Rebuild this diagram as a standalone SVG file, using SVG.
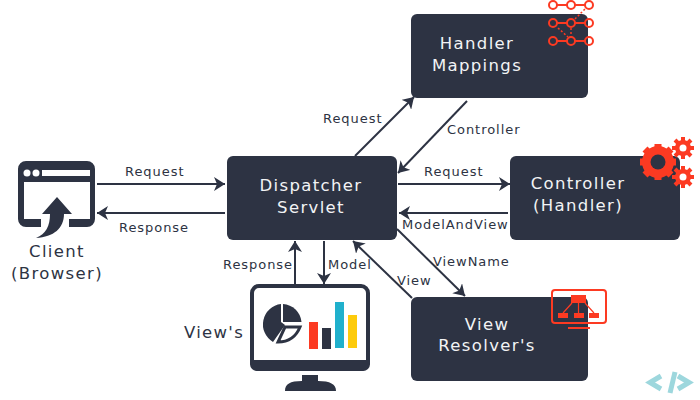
<svg xmlns="http://www.w3.org/2000/svg" width="700" height="400" viewBox="0 0 700 400">
<style>
.box{fill:#2d3343}
.t{font-family:"DejaVu Sans",sans-serif;fill:#2d3343}
.lb{font-size:13px;letter-spacing:.95px}
.big{font-family:"DejaVu Sans",sans-serif;font-size:16.500px;letter-spacing:1.350px;text-anchor:middle}
.w{fill:#f2f3f5}
.c{stroke:#2d3343;stroke-width:2;fill:none;marker-end:url(#a)}
.red{fill:#fc3a22}
.rs{stroke:#fc3a22;fill:none}
.o{fill:none;stroke:#fc3a22;stroke-width:2}
</style>
<defs>
<marker id="a" markerUnits="userSpaceOnUse" markerWidth="12" markerHeight="14" refX="11" refY="7" orient="auto"><path d="M0 0L11 7L0 14L3 7Z" fill="#2d3343"/></marker>
</defs>
<g id="connectors">
<path class="c" d="M97 184H225"/>
<path class="c" d="M225 213H97"/>
<path class="c" d="M355 156L414 97"/>
<path class="c" d="M467 101L398 173"/>
<path class="c" d="M398 184H510"/>
<path class="c" d="M508 213H399"/>
<path class="c" d="M397 229L465 296"/>
<path class="c" d="M412 298L353 241"/>
<path class="c" d="M295 284V241"/>
<path class="c" d="M324 241V284"/>
</g>
<g id="labels" class="t lb">
<text x="125" y="176">Request</text>
<text x="119" y="232">Response</text>
<text x="323" y="123">Request</text>
<text x="447" y="134">Controller</text>
<text x="424" y="176">Request</text>
<text x="402" y="229">ModelAndView</text>
<text x="433" y="266">ViewName</text>
<text x="397" y="285">View</text>
<text x="223" y="269">Response</text>
<text x="328" y="269">Model</text>
</g>
<g id="client">
<path class="box" d="M26 161H87a8 8 0 0 1 8 8V219a8 8 0 0 1-8 8H69V219H90V182H24V219H41V227H26a8 8 0 0 1-8-8V169a8 8 0 0 1 8-8Z"/>
<circle cx="27" cy="173" r="3.500" fill="#fff"/><circle cx="36" cy="173" r="3.500" fill="#fff"/><rect x="42" y="170" width="48" height="6" fill="#fff"/>
<path class="box" d="M57 197L72 214H64C64 228 54 237 36 238C46 234 50 226 50 214H42Z"/>
<text class="t big" x="57" y="257">Client</text>
<text class="t big" x="57" y="279">(Browser)</text>
</g>
<g id="dispatcher">
<rect class="box" x="227" y="156" width="170" height="84" rx="6"/>
<text class="big w" x="311" y="191">Dispatcher</text>
<text class="big w" x="311" y="213">Servlet</text>
</g>
<g id="handler">
<rect class="box" x="411" y="14" width="177" height="84" rx="6"/>
<text class="big w" x="477" y="49">Handler</text>
<text class="big w" x="477" y="71">Mappings</text>
<path class="rs" stroke-width="2" d="M557 5H567M575 5H585M557 23H567M575 23H585M557 41H567M575 41H585"/>
<path class="rs" stroke-width="1.500" stroke-dasharray="2 2" d="M575 19L585 9M558 28L568 37M571 28V37"/>
<g class="o"><circle cx="553" cy="5" r="4"/><circle cx="571" cy="5" r="4"/><circle cx="589" cy="5" r="4"/><circle cx="553" cy="23" r="4"/><circle cx="571" cy="23" r="4"/><circle cx="589" cy="23" r="4"/><circle cx="553" cy="41" r="4"/><circle cx="571" cy="41" r="4"/><circle cx="589" cy="41" r="4"/></g>
</g>
<g id="controller">
<rect class="box" x="510" y="156" width="170" height="84" rx="6"/>
<text class="big w" x="578" y="189">Controller</text>
<text class="big w" x="578" y="211">(Handler)</text>
<g fill="none" stroke="#fc3a22">
<circle cx="658" cy="162" r="11.500" stroke-width="9"/>
<path stroke-width="7" d="M658 144V180M640 162H676M645 149L671 175M671 149L645 175"/>
<circle cx="683" cy="148" r="5.500" stroke-width="5"/>
<path stroke-width="4" d="M683 137V159M672 148H694M675 140L691 156M691 140L675 156"/>
<circle cx="683" cy="177" r="5.500" stroke-width="5"/>
<path stroke-width="4" d="M683 166V188M672 177H694M675 169L691 185M691 169L675 185"/>
</g>
<circle cx="658" cy="162" r="7.500" fill="#2d3343"/>
<circle cx="683" cy="148" r="3.500" fill="#fff"/>
<circle cx="683" cy="177" r="3.500" fill="#fff"/>
</g>
<g id="resolver">
<rect class="box" x="411" y="297" width="177" height="84" rx="6"/>
<text class="big w" x="487" y="330">View</text>
<text class="big w" x="487" y="351">Resolver's</text>
<rect x="552" y="290" width="54" height="33" rx="3" fill="none" stroke="#fc3a22" stroke-width="2"/>
<path class="red" d="M568 327H590V329H568Z"/>
<rect class="red" x="571" y="295" width="15" height="8"/><rect class="red" x="558" y="313" width="10" height="5"/><rect class="red" x="574" y="313" width="10" height="5"/><rect class="red" x="589" y="313" width="10" height="5"/>
<path class="rs" stroke-width="1.200" d="M572 303L563 313M578.500 303V313M585 303L594 313"/>
</g>
<g id="views">
<text class="t" font-size="16.500" letter-spacing="1.300" x="184" y="338">View's</text>
<rect x="252" y="286" width="116" height="83" rx="7" fill="#fff" stroke="#2d3343" stroke-width="4"/>
<path class="box" d="M250 360H370V364a7 7 0 0 1-7 7H257a7 7 0 0 1-7-7Z"/>
<path class="box" d="M302 375H318V381C330 381 336 384 336 391H285C285 384 290 381 302 381Z"/>
<path class="box" d="M281 304A20.500 20.500 0 0 0 273 342L285 325L281 322Z"/>
<path class="box" d="M283 304A20 20 0 0 1 301.500 322L283 322Z"/>
<path fill="none" stroke="#2d3343" stroke-width="3" d="M285 327H300C296 337 288 342 278 342Z"/>
<rect class="red" x="309" y="322" width="9" height="27"/>
<rect class="box" x="322" y="328" width="9" height="21"/>
<rect x="335" y="302" width="9" height="46" fill="#20b0cc"/>
<rect x="348" y="315" width="9" height="33" fill="#fdcb0c"/>
</g>
<g id="logo" fill="none" stroke="#9dd7dd" stroke-width="5">
<path d="M661 376L650 382.500L661 389"/>
<path d="M675 372L670 393"/>
<path d="M678 376L689 382.500L678 389"/>
</g>
</svg>
